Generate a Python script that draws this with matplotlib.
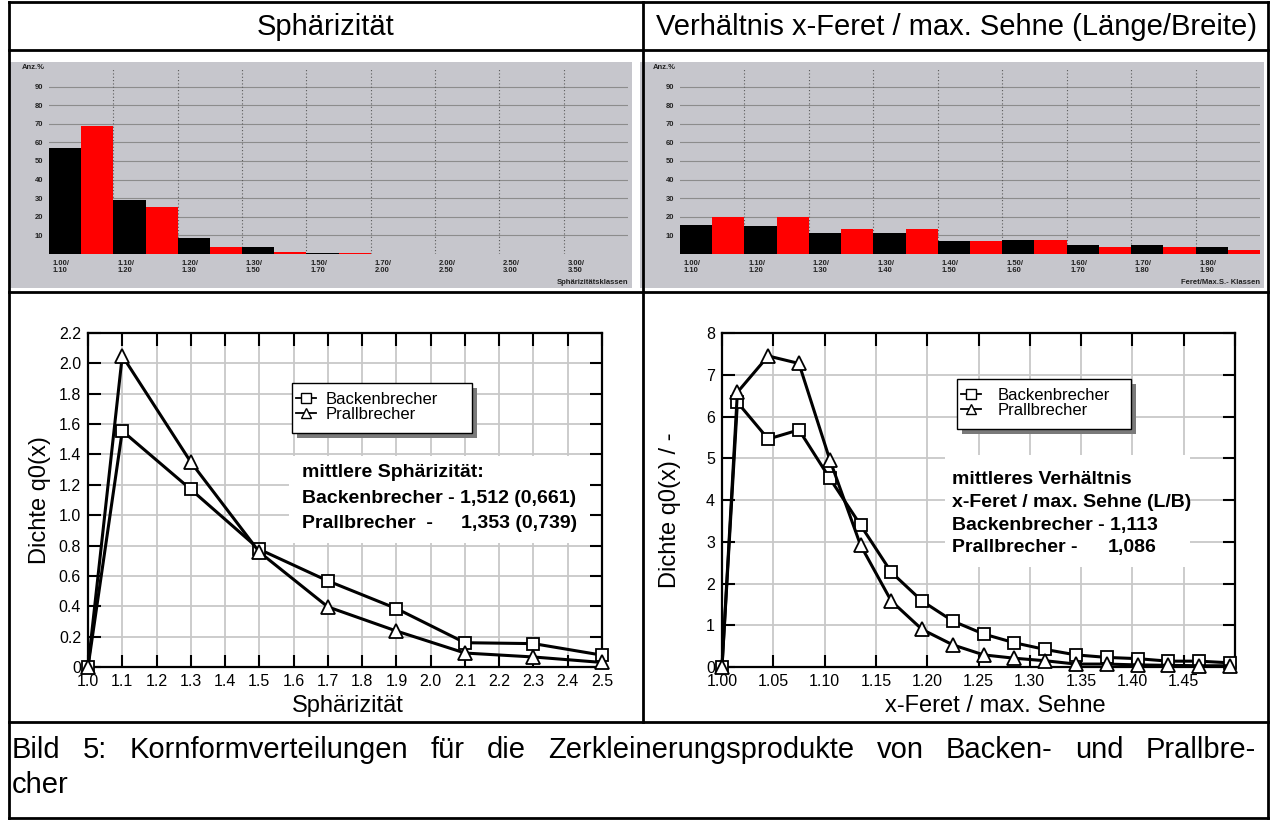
import numpy as np
import matplotlib
matplotlib.use('Agg')
import matplotlib.pyplot as plt
from matplotlib.patches import Rectangle
from matplotlib.lines import Line2D

plt.rcParams['font.family'] = ['Liberation Sans', 'DejaVu Sans']

W, H = 1271, 822

# --- Histogramme (Bildanalyse-Screenshots), Anzahl in % ---
sph_classes = ['1.00/\n1.10', '1.10/\n1.20', '1.20/\n1.30', '1.30/\n1.50', '1.50/\n1.70',
               '1.70/\n2.00', '2.00/\n2.50', '2.50/\n3.00', '3.00/\n3.50']
sph_backen_pct = [57, 29, 8.6, 3.7, 0.4, 0, 0, 0, 0]
sph_prall_pct = [69, 25.5, 3.7, 1.2, 0.3, 0, 0, 0, 0]

lb_classes = ['1.00/\n1.10', '1.10/\n1.20', '1.20/\n1.30', '1.30/\n1.40', '1.40/\n1.50',
              '1.50/\n1.60', '1.60/\n1.70', '1.70/\n1.80', '1.80/\n1.90']
lb_backen_pct = [15.6, 15.3, 11.5, 11.5, 7.2, 7.5, 4.8, 4.8, 3.6]
lb_prall_pct = [20, 20, 13.5, 13.5, 7.2, 7.5, 3.6, 3.6, 2.3]
hist_yticks = [10, 20, 30, 40, 50, 60, 70, 80, 90]

# --- Dichteverteilungen q0(x) ---
sph_x = [1.0, 1.1, 1.3, 1.5, 1.7, 1.9, 2.1, 2.3, 2.5]
sph_backen = [0, 1.555, 1.17, 0.775, 0.567, 0.385, 0.16, 0.154, 0.078]
sph_prall = [0, 2.05, 1.35, 0.757, 0.396, 0.237, 0.092, 0.066, 0.03]

lb_x = [1.000, 1.015, 1.045, 1.075, 1.105, 1.135, 1.165, 1.195, 1.225,
        1.255, 1.285, 1.315, 1.345, 1.375, 1.405, 1.435, 1.465, 1.495]
lb_backen = [0, 6.34, 5.46, 5.68, 4.52, 3.40, 2.27, 1.58, 1.10,
             0.79, 0.58, 0.42, 0.29, 0.23, 0.20, 0.14, 0.14, 0.10]
lb_prall = [0, 6.58, 7.45, 7.27, 4.97, 2.92, 1.58, 0.90, 0.53,
            0.29, 0.21, 0.15, 0.07, 0.07, 0.05, 0.04, 0.03, 0.03]

sph_xticks = [1.0, 1.1, 1.2, 1.3, 1.4, 1.5, 1.6, 1.7, 1.8, 1.9, 2.0, 2.1, 2.2, 2.3, 2.4, 2.5]
sph_yticks = [0, 0.2, 0.4, 0.6, 0.8, 1.0, 1.2, 1.4, 1.6, 1.8, 2.0, 2.2]
lb_xticks = [1.00, 1.05, 1.10, 1.15, 1.20, 1.25, 1.30, 1.35, 1.40, 1.45, 1.50]
lb_yticks = [0, 1, 2, 3, 4, 5, 6, 7, 8]

fig = plt.figure(figsize=(W / 100, H / 100), dpi=100)


def fx(x):
    return x / W


def fy(y):
    return 1 - y / H


def px_axes(x0, y0, x1, y1):
    return fig.add_axes([fx(x0), fy(y1), (x1 - x0) / W, (y1 - y0) / H])


def hline(x0, x1, y, lw=2):
    fig.add_artist(Line2D([fx(x0), fx(x1)], [fy(y), fy(y)], transform=fig.transFigure,
                          color='black', lw=lw, solid_capstyle='projecting'))


def vline(x, y0, y1, lw=2):
    fig.add_artist(Line2D([fx(x), fx(x)], [fy(y0), fy(y1)], transform=fig.transFigure,
                          color='black', lw=lw, solid_capstyle='projecting'))


# Tabellenrahmen
hline(9, 1268, 2)
hline(9, 1268, 50)
hline(9, 1268, 292)
hline(9, 1268, 722)
hline(9, 1268, 818)
vline(9, 2, 818)
vline(1268, 2, 818)
vline(643, 2, 722)

fig.text(fx(326), fy(27), 'Sphärizität', fontsize=21, ha='center', va='center')
fig.text(fx(956), fy(27), 'Verhältnis x-Feret / max. Sehne (Länge/Breite)', fontsize=21,
         ha='center', va='center')

# --- Histogramme ---
gray = '#c6c6cc'


def histogram(x0, x1, classes, black, red, xlabel):
    fig.add_artist(Rectangle((fx(x0 - 40), fy(288)), (x1 - x0 + 44) / W, 226 / H,
                             transform=fig.transFigure, facecolor=gray, edgecolor='none', zorder=-1))
    ax = px_axes(x0, 68, x1, 254)
    ax.set_facecolor(gray)
    idx = np.arange(len(classes))
    for v in hist_yticks:
        ax.axhline(v, color='#8c8c8c', lw=0.8, zorder=0)
    for i in range(1, len(classes)):
        ax.axvline(i, color='#5a5a5a', lw=0.8, ls=(0, (1, 2)), zorder=0)
    ax.bar(idx, black, width=0.5, align='edge', color='black', zorder=2)
    ax.bar(idx + 0.5, red, width=0.5, align='edge', color='#ff0000', zorder=2)
    ax.set_xlim(0, len(classes))
    ax.set_ylim(0, 100)
    ax.set_yticks(hist_yticks, [str(v) for v in hist_yticks])
    ax.set_xticks(idx + 0.06, classes)
    for lab in ax.get_xticklabels():
        lab.set_ha('left')
        lab.set_linespacing(1.0)
    ax.tick_params(length=0, labelsize=5.5, pad=4, labelcolor='#222222')
    for lab in ax.get_xticklabels() + ax.get_yticklabels():
        lab.set_fontweight('bold')
    for s in ax.spines.values():
        s.set_visible(False)
    ax.text(-0.008, 1.0, 'Anz.%', transform=ax.transAxes, fontsize=5.5, fontweight='bold',
            ha='right', va='center', color='#222222')
    ax.text(1.0, -0.155, xlabel, transform=ax.transAxes, fontsize=5.5, fontweight='bold',
            ha='right', va='center', color='#222222')
    return ax


histogram(49, 628, sph_classes, sph_backen_pct, sph_prall_pct, 'Sphärizitätsklassen')
histogram(680, 1260, lb_classes, lb_backen_pct, lb_prall_pct, 'Feret/Max.S.- Klassen')


# --- Dichtekurven ---
def curve_axes(x0, x1, xticks, xlabels, yticks, ylabels):
    ax = px_axes(x0, 333, x1, 667)
    ax.set_xlim(xticks[0], xticks[-1])
    ax.set_ylim(yticks[0], yticks[-1])
    ax.set_xticks(xticks, xlabels)
    ax.set_yticks(yticks, ylabels)
    ax.grid(True, color='#c8c8c8', lw=1.3)
    ax.set_axisbelow(True)
    ax.tick_params(direction='in', length=9, width=1.5, top=True, right=True,
                   labelsize=11.5, pad=5)
    for s in ax.spines.values():
        s.set_linewidth(1.6)
    return ax


def draw_curves(ax, x, yb, yp):
    ax.plot(x, yb, color='black', lw=2.2, marker='s', ms=8, mfc='white', mec='black',
            mew=1.3, clip_on=False, zorder=3)
    ax.plot(x, yp, color='black', lw=2.2, marker='^', ms=9.5, mfc='white', mec='black',
            mew=1.3, clip_on=False, zorder=3)


def legend_box(ax, x0, y0, x1, y1, pad):
    ax.add_artist(Rectangle((fx(x0 + 5), fy(y1 + 5)), (x1 - x0) / W, (y1 - y0) / H,
                            transform=fig.transFigure, facecolor='#7a7a7a', edgecolor='none', zorder=4))
    ax.add_artist(Rectangle((fx(x0), fy(y1)), (x1 - x0) / W, (y1 - y0) / H,
                            transform=fig.transFigure, facecolor='white', edgecolor='black',
                            lw=1.0, zorder=4.2))
    handles = [Line2D([], [], color='black', lw=1.3, marker='s', ms=7, mfc='white', mec='black', mew=1),
               Line2D([], [], color='black', lw=1.3, marker='^', ms=7.5, mfc='white', mec='black', mew=1)]
    leg = ax.legend(handles, ['Backenbrecher', 'Prallbrecher'], loc='center left',
                    bbox_to_anchor=(fx(x0 + 4), fy((y0 + y1) / 2 - 1)), bbox_transform=fig.transFigure,
                    frameon=False, fontsize=12, handlelength=1.2, handletextpad=pad,
                    labelspacing=0.0, borderpad=0, borderaxespad=0)
    leg.set_zorder(5)


def white_block(ax, x0, y0, x1, y1):
    ax.add_artist(Rectangle((fx(x0), fy(y1)), (x1 - x0) / W, (y1 - y0) / H,
                            transform=fig.transFigure, facecolor='white', edgecolor='none', zorder=1.5))


def btext(x, y, s, ha='left'):
    fig.text(fx(x), fy(y), s, fontsize=14, fontweight='bold', ha=ha, va='center', zorder=6)


# links: Sphärizität
ax3 = curve_axes(88, 602, sph_xticks, ['%.1f' % v for v in sph_xticks],
                 sph_yticks, ['0'] + ['%.1f' % v for v in sph_yticks[1:]])
draw_curves(ax3, sph_x, sph_backen, sph_prall)
ax3.set_ylabel('Dichte q0(x)', fontsize=17)
ax3.set_xlabel('Sphärizität', fontsize=17)
ax3.yaxis.set_label_coords(fx(40), fy(500), transform=fig.transFigure)
ax3.xaxis.set_label_coords(fx(348), fy(706), transform=fig.transFigure)
legend_box(ax3, 292, 383, 472, 433, 0.55)
white_block(ax3, 289, 456, 590, 543)
btext(302, 472, 'mittlere Sphärizität:')
btext(302, 498, 'Backenbrecher - 1,512 (0,661)')
btext(302, 524, 'Prallbrecher  -')
btext(577, 524, '1,353 (0,739)', ha='right')

# rechts: Länge/Breite
ax4 = curve_axes(722, 1235, lb_xticks, ['%.2f' % v for v in lb_xticks[:-1]] + [''],
                 lb_yticks, [str(v) for v in lb_yticks])
draw_curves(ax4, lb_x, lb_backen, lb_prall)
ax4.set_ylabel('Dichte q0(x) / -', fontsize=17)
ax4.set_xlabel('x-Feret / max. Sehne', fontsize=17)
ax4.yaxis.set_label_coords(fx(670), fy(510), transform=fig.transFigure)
ax4.xaxis.set_label_coords(fx(995), fy(706), transform=fig.transFigure)
legend_box(ax4, 957, 379, 1131, 429, 1.0)
white_block(ax4, 945, 455, 1190, 567)
btext(952, 480, 'mittleres Verhältnis')
btext(952, 502, 'x-Feret / max. Sehne (L/B)')
btext(952, 525, 'Backenbrecher - 1,113')
btext(952, 547, 'Prallbrecher -')
btext(1157, 547, '1,086', ha='right')

for ax in (ax3, ax4):
    ax.xaxis.label.set_va('center')
    ax.yaxis.label.set_va('center')

# --- Bildunterschrift (Blocksatz) ---
renderer = fig.canvas.get_renderer()


def justified_line(text, x0, x1, y, size):
    words = text.split(' ')
    objs = [fig.text(0, fy(y), w, fontsize=size, va='center') for w in words]
    widths = [o.get_window_extent(renderer).width for o in objs]
    gap = (x1 - x0 - sum(widths)) / (len(words) - 1)
    x = x0
    for o, w in zip(objs, widths):
        o.set_x(fx(x))
        x += w + gap


justified_line('Bild 5: Kornformverteilungen für die Zerkleinerungsprodukte von Backen- und Prallbre-',
               12, 1256, 750, 21)
fig.text(fx(12), fy(785), 'cher', fontsize=21, va='center')

fig.savefig('out.png', dpi=100)
